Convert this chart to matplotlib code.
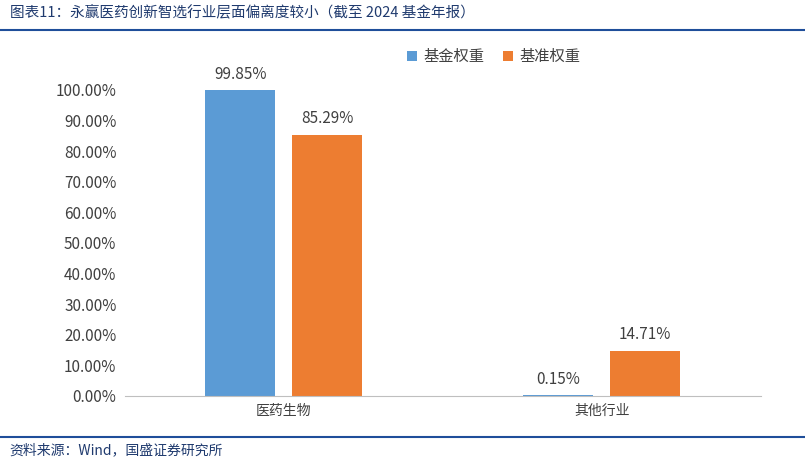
import matplotlib
matplotlib.use("Agg")
import matplotlib.pyplot as plt
from matplotlib.lines import Line2D

plt.rcParams['font.family'] = ['Noto Sans CJK SC', 'DejaVu Sans']

categories = ["医药生物", "其他行业"]
fund_w = [99.85, 0.15]
bench_w = [85.29, 14.71]
series = ["基金权重", "基准权重"]
yticks = list(range(0, 101, 10))

fig = plt.figure(figsize=(8.05, 4.73), dpi=100)
ax = fig.add_axes([0.155, 0.163, 0.79, 0.647])
x = [0, 1]
w = 0.22
off = 0.137
b1 = ax.bar([i - off for i in x], fund_w, w, color="#5B9BD5", label=series[0])
b2 = ax.bar([i + off for i in x], bench_w, w, color="#ED7D31", label=series[1])
for bars, vals in ((b1, fund_w), (b2, bench_w)):
    for r, v in zip(bars, vals):
        ax.text(r.get_x() + r.get_width() / 2, v + 2.5, f"{v:.2f}%", ha="center", va="bottom",
                fontsize=11, color="#404040")
ax.set_xlim(-0.5, 1.5)
ax.set_ylim(0, 100)
ax.set_yticks(yticks)
ax.set_yticklabels([f"{t:.2f}%" for t in yticks], fontsize=11, color="#404040")
ax.set_xticks(x)
ax.set_xticklabels(categories, fontsize=10, color="#404040")
ax.tick_params(length=0, pad=6)
for s in ("top", "right", "left"):
    ax.spines[s].set_visible(False)
ax.spines["bottom"].set_color("#BFBFBF")
ax.legend(loc="center", bbox_to_anchor=(0.58, 1.108), ncol=2, frameon=False, fontsize=11,
          handlelength=0.7, handleheight=0.7, columnspacing=1.2, handletextpad=0.4, labelcolor="#404040")

fig.text(0.012, 0.972, "图表11：永赢医药创新智选行业层面偏离度较小（截至 2024 基金年报）", fontsize=10.5,
         color="#1F3A6E", va="center")
fig.add_artist(Line2D([0.0, 1.0], [0.937, 0.937], color="#1F4E9A", lw=1.5))
fig.add_artist(Line2D([0.0, 1.0], [0.076, 0.076], color="#1F4E9A", lw=1.5))
fig.text(0.012, 0.048, "资料来源：Wind，国盛证券研究所", fontsize=10, color="#1F3A6E", va="center")
fig.savefig("out.png", dpi=100)
